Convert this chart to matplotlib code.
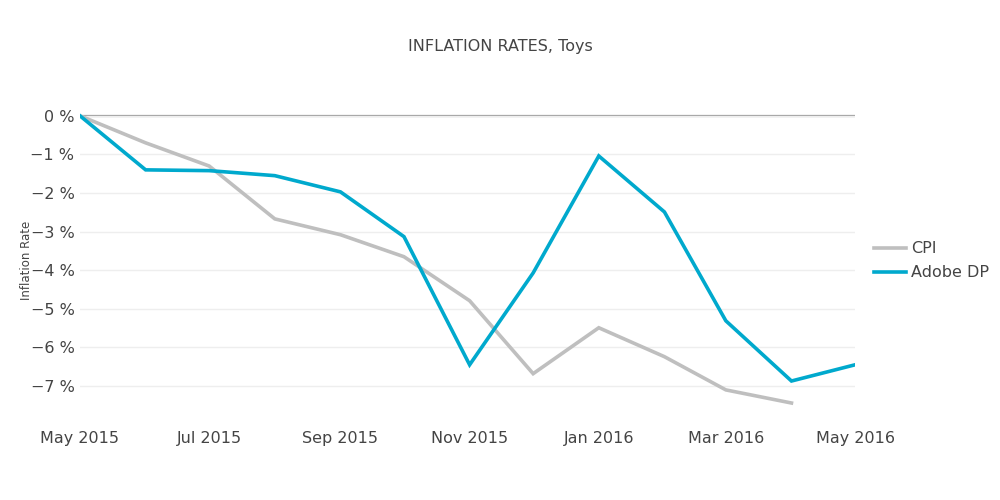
import numpy as np
import pandas as pd
import matplotlib.pyplot as plt
import matplotlib.dates as mdates
from matplotlib.ticker import FuncFormatter

months = pd.date_range('2015-05-01', '2016-05-01', freq='MS')
cpi = [0.0, -0.70, -1.30, -2.67, -3.08, -3.65, -4.79, -6.68, -5.49, -6.24, -7.10, -7.44, np.nan]
adobe = [0.0, -1.40, -1.42, -1.55, -1.97, -3.13, -6.45, -4.07, -1.04, -2.49, -5.31, -6.87, -6.45]
tick_dates = pd.date_range('2015-05-01', '2016-05-01', freq='2MS')

text_col = '#444444'
plt.rcParams['font.family'] = ['DejaVu Sans']

fig = plt.figure(figsize=(10, 5), dpi=100)
ax = fig.add_axes([0.08, 0.16, 0.775, 0.64])

ax.plot(months, cpi, color='#bfbfbf', lw=2.6, label='CPI', solid_joinstyle='miter')
ax.plot(months, adobe, color='#00a9cd', lw=2.6, label='Adobe DP', solid_joinstyle='miter')

ax.set_xlim(months[0], months[-1])
ax.set_ylim(-7.88, 0.41)
ax.set_yticks(range(-7, 1))
ax.yaxis.set_major_formatter(FuncFormatter(lambda v, p: f'{int(v)} %'.replace('-', '\u2212')))
ax.set_xticks(tick_dates)
ax.xaxis.set_major_formatter(mdates.DateFormatter('%b %Y'))

ax.grid(axis='y', color='#eeeeee', lw=1)
ax.axhline(0, color='#999999', lw=1.6, zorder=1)
for s in ax.spines.values():
    s.set_visible(False)
ax.tick_params(length=0, labelsize=11.5, labelcolor=text_col)
ax.tick_params(axis='x', pad=8)
ax.tick_params(axis='y', pad=4)

ax.set_ylabel('Inflation Rate', fontsize=8.5, color=text_col)
ax.yaxis.set_label_coords(-0.061, 0.5)
fig.text(0.5, 0.908, 'INFLATION RATES, Toys', ha='center', va='center', fontsize=11.5, color=text_col)

leg = fig.legend(loc='upper left', bbox_to_anchor=(0.868, 0.53), frameon=False,
                 fontsize=11.5, handlelength=2.0, handletextpad=0.3, labelspacing=0.55, borderaxespad=0)
for t in leg.get_texts():
    t.set_color(text_col)

fig.savefig('out.png', dpi=100)
